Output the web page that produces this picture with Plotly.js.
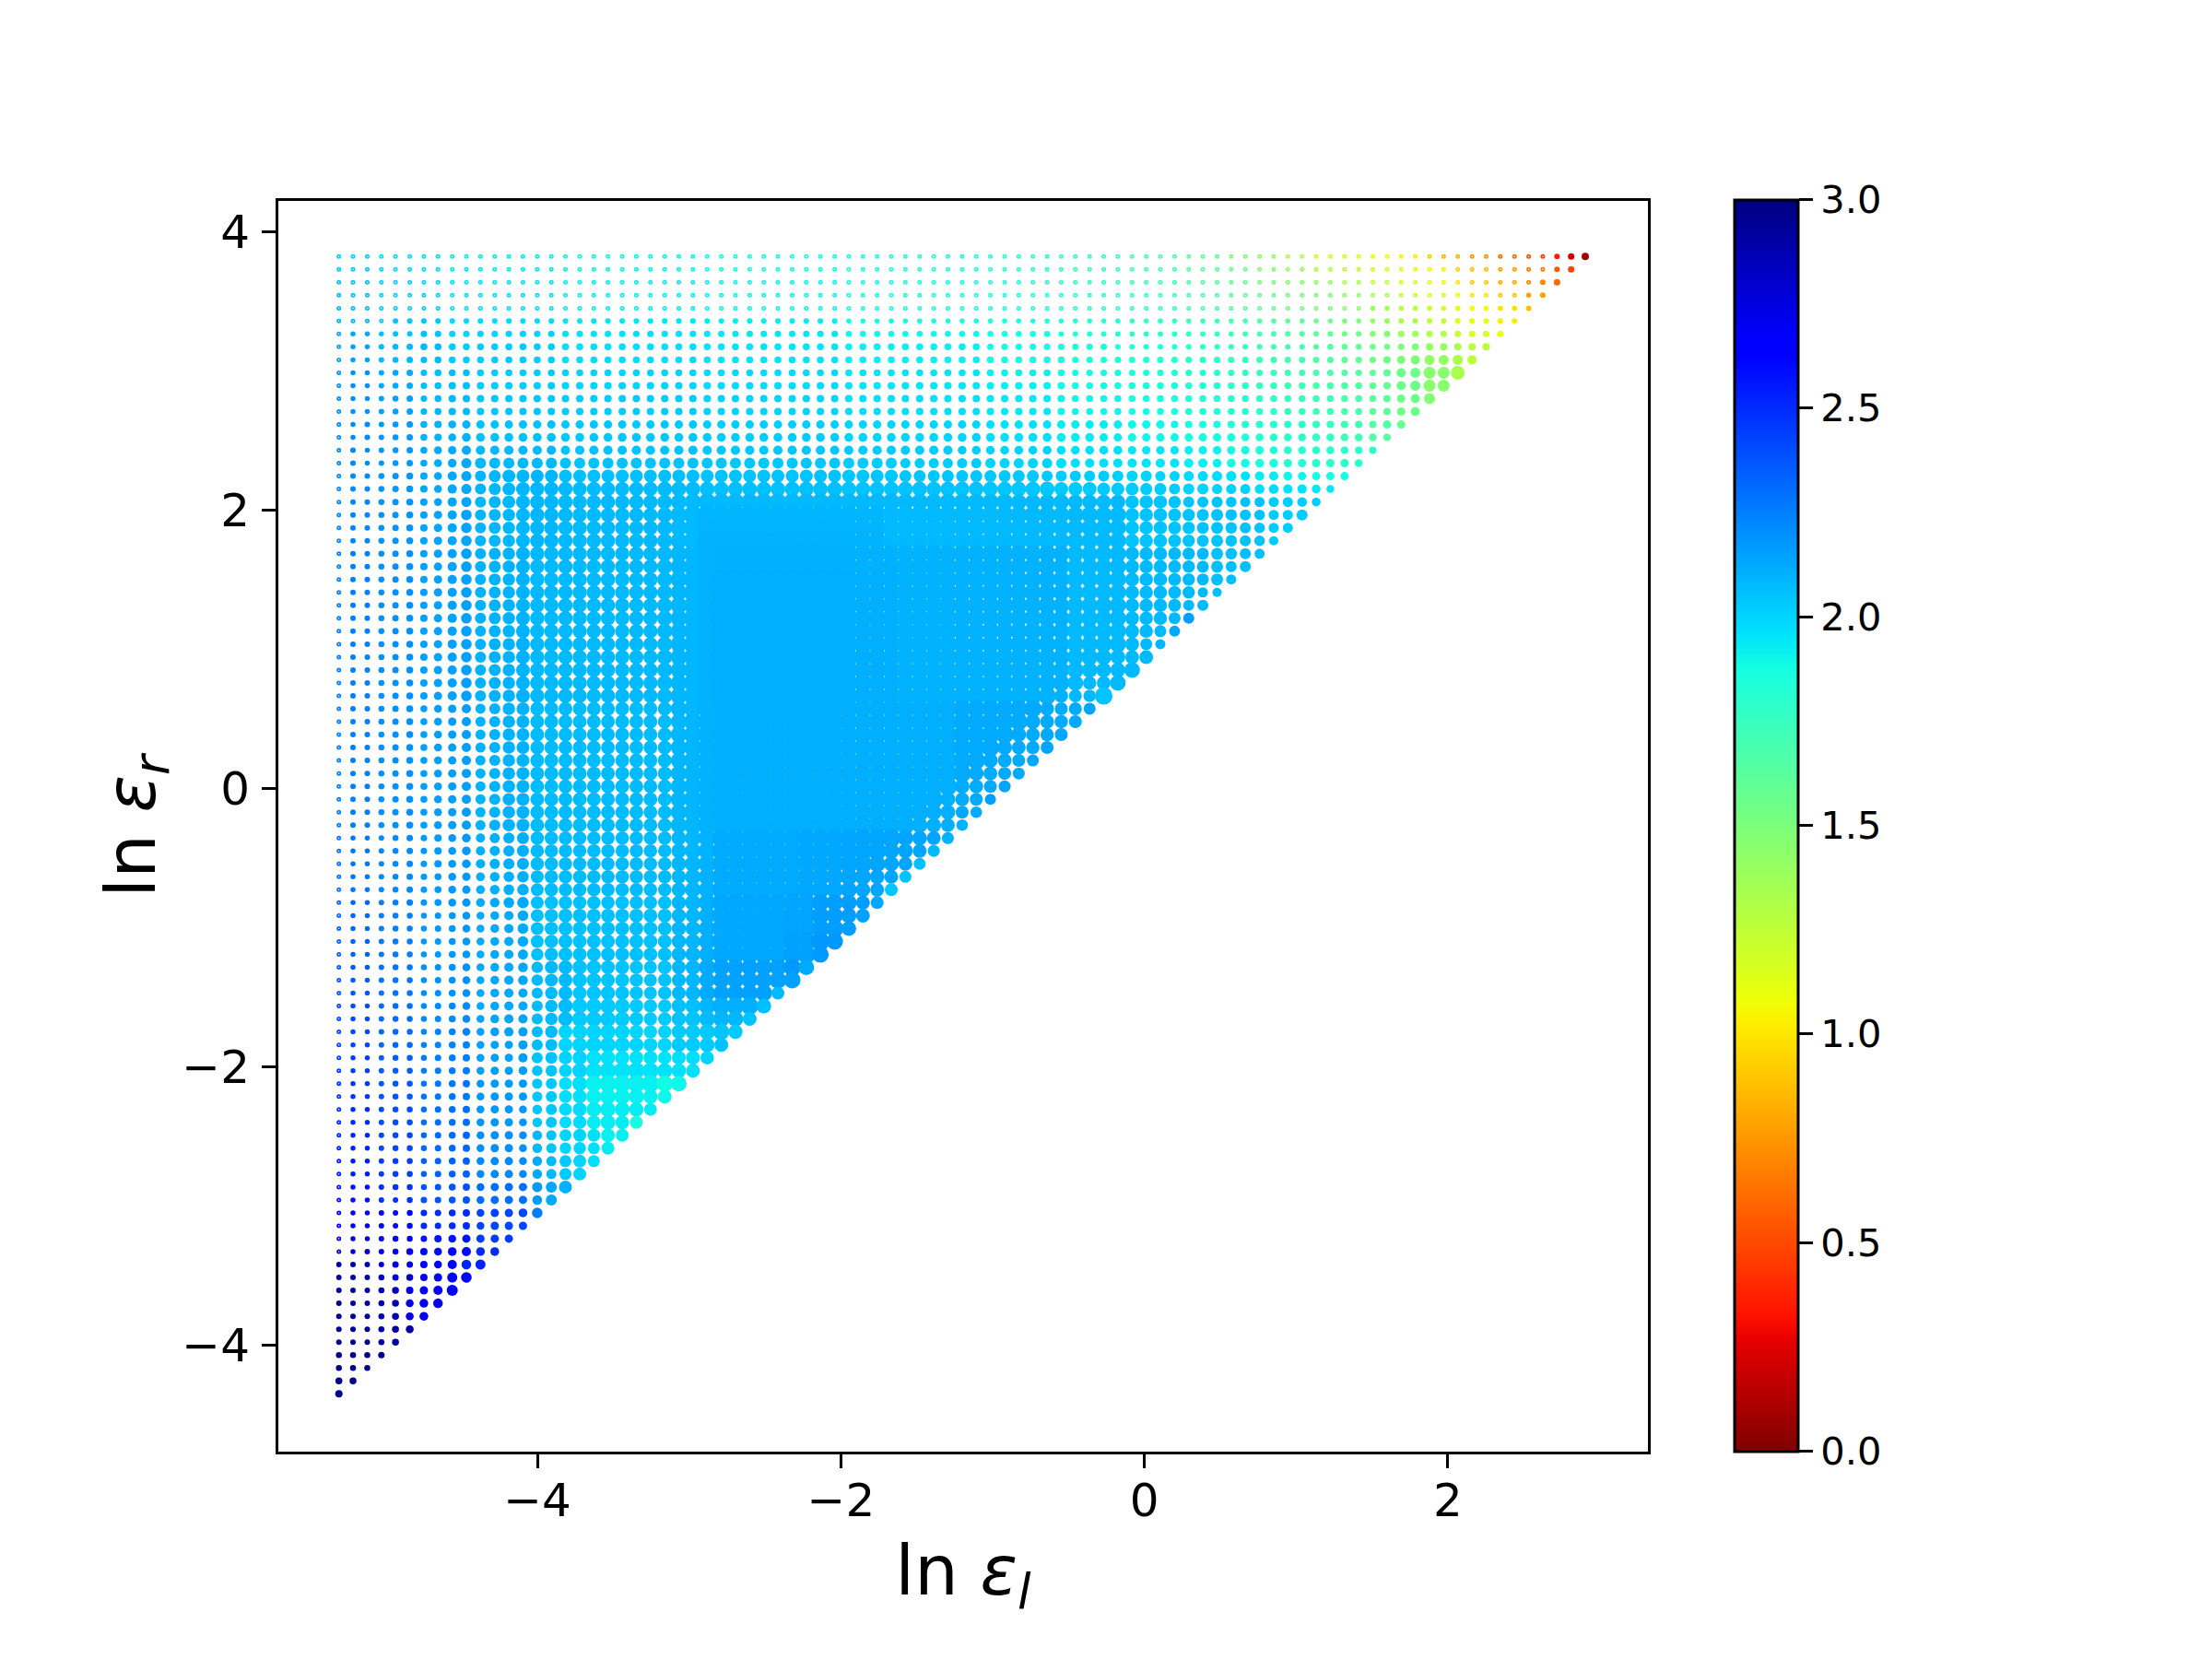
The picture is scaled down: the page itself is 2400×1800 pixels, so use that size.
<!DOCTYPE html>
<html><head><meta charset="utf-8">
<script src="https://cdn.plot.ly/plotly-3.0.1.min.js"></script>
<style>html,body{margin:0;padding:0;background:#fff}</style></head>
<body><div id="chart" style="width:2400px;height:1800px"></div>
<script>
// Column positions (ln eps_l) and row positions (ln eps_r)
const lnEpsL=[-5.308,-5.215,-5.121,-5.028,-4.935,-4.841,-4.748,-4.655,-4.561,-4.468,-4.375,-4.281,-4.188,-4.095,-4.001,-3.908,-3.815,-3.721,-3.628,-3.535,-3.441,-3.348,-3.255,-3.161,-3.068,-2.975,-2.881,-2.788,-2.695,-2.601,-2.508,-2.415,-2.321,-2.228,-2.135,-2.041,-1.948,-1.855,-1.761,-1.668,-1.575,-1.481,-1.388,-1.295,-1.201,-1.108,-1.015,-.921,-.828,-.735,-.641,-.548,-.455,-.361,-.268,-.175,-.081,.012,.105,.199,.292,.385,.479,.572,.665,.759,.852,.945,1.039,1.132,1.225,1.319,1.412,1.505,1.599,1.692,1.785,1.879,1.972,2.065,2.159,2.252,2.345,2.439,2.532,2.625,2.719,2.812,2.905];
const lnEpsR=[3.823,3.730,3.637,3.544,3.451,3.359,3.266,3.173,3.080,2.987,2.894,2.801,2.708,2.615,2.522,2.430,2.337,2.244,2.151,2.058,1.965,1.872,1.779,1.686,1.593,1.501,1.408,1.315,1.222,1.129,1.036,.943,.850,.757,.664,.572,.479,.386,.293,.200,.107,.014,-.079,-.172,-.265,-.358,-.450,-.543,-.636,-.729,-.822,-.915,-1.008,-1.101,-1.194,-1.287,-1.379,-1.472,-1.565,-1.658,-1.751,-1.844,-1.937,-2.030,-2.123,-2.216,-2.308,-2.401,-2.494,-2.587,-2.680,-2.773,-2.866,-2.959,-3.052,-3.145,-3.237,-3.330,-3.423,-3.516,-3.609,-3.702,-3.795,-3.888,-3.981,-4.074,-4.166,-4.259,-4.352];

// Dot diameter read per row band: [firstRow,lastRow, value,count, value,count, ...]
const diameterBands=[
[0,3,5,89],
[4,4,5,73,5.5,16],
[5,5,5,4,6,32,5.5,38,6,15],
[6,6,5,1,5.5,3,6,2,7,30,6.5,15,5.8,15,6,7,6.5,1,7,16],
[7,7,5,1,5.5,2,6,1,6.5,1,7,1,7.5,40,7,9,6,15,6.5,5,7,1,7.5,1,8,9],
[8,8,5,1,5.5,2,6,1,6.5,1,7,2,7.5,45,7,22,8,1,9,1,10,1,11,3,10,1],
[9,9,5,1,5.5,2,6,1,6.5,1,7,2,7.5,45,7,22,8,1,10,1,11,1,13,2,15,1],
[10,10,5,1,5.5,2,6,1,6.5,1,7,2,7.5,1,8,44,7.5,22,8,1,10,1,11,1,13,2],
[11,11,5,1,5.5,2,6,1,6.5,1,7,2,7.5,1,8,44,7.5,22,8,1,9,1,10,1,12,1],
[12,12,5,1,5.5,2,6,1,6.5,1,7,2,7.5,1,8,44,7.5,22,8,1,9,1,10,1],
[13,13,5,1,5.5,1,6,2,6.5,1,7,1,7.5,1,8,1,8.5,1,9,50,8,15,9,1],
[14,14,5,1,5.5,1,6,2,6.5,1,7,1,7.5,1,8,1,8.5,1,9.5,45,9,10,8.5,10,8,10],
[15,15,5,1,6,1,5.5,1,6,1,6.5,1,7,1,7.5,1,8.5,1,9,1,10,35,9.5,12,9,10,8.5,5,8,10],
[16,16,5,1,6,1,5.5,1,6,1,6.5,1,7,1,7.5,1,8.5,1,9.5,1,11,1,12,30,11,12,10,10,9.5,5,9,5,8.5,10],
[17,17,5,1,6,2,6.5,1,7,1,7.5,1,8,1,8.5,1,10,1,11,1,12,1,13,1,14,28,13,10,12,8,11,6,10,3,9.5,1,9,9],
[18,18,5,1,6,2,6.5,1,7,1,7.5,1,8,1,8.5,1,10,1,11,1,12,1,13,1,14,1,15,1,15.5,9,16,28,15,3,14,3,13,2,12,3,11,3,10.5,2,10,9],
[19,19,5,1,6,2,6.5,1,7,1,7.5,1,8,1,8.5,1,10,1,11,1,12,1,13,1,14,1,15,1,15.5,9,16,1,17,1,18,1,19,14,18,8,17,4,16,4,14.5,3,13.5,1,12,3,11.5,1,11,4,10.5,1,10,6],
[20,34,5,1,6,2,6.5,1,7,1,7.5,1,8,1,9,1,10,1,11.5,1,12,1,13,1,13.5,1,15,1,15.5,9,16.5,1,18,1,20,1,22,10,20,8,19.5,4,19,3,18,5,15,1,14.5,2,14,1,13.5,1,13,2,12.5,1,12,1,11.5,1,11,5],
[35,44,5,1,6,2,6.5,1,7,1,7.5,2,8.5,1,9,1,10,1,11,1,12,1,13.5,1,14,1,15,10,17.5,1,19.5,1,20.5,10,20,8,19.5,4,19,3,18,5],
[45,47,5,1,5.5,2,6,1,6.5,1,7,2,8,1,8.5,1,9.5,1,10,1,11,1,12,1,13,1,14.5,10,16,1,17.5,1,19,1,20,14],
[48,50,5,1,5.5,2,6,1,6.5,1,7,2,7.5,1,8.5,1,9,1,9.5,1,10.5,1,11.5,1,12.5,1,14,1,14.5,9,15.5,1,17,1,18.5,1,20,14],
[51,53,5,1,5.5,2,6,1,6.5,3,7,1,7.5,1,8.5,2,9.5,1,10,1,11.5,1,14,1,14.5,1,15,8,15.5,1,16,1,18,1,20.5,12],
[54,54,5,1,5.5,2,6,1,6.5,3,7,1,7.5,1,8.5,2,9.5,1,10,1,11,1,13.5,1,14.5,1,15,8,15.5,1,16.5,1,17.5,1,20,8],
[55,60,5,1,5.5,2,6,1,6.5,3,7,1,7.5,1,8.5,2,9.5,1,10,90],
[61,72,5,1,5.5,2,6,1,6.5,3,7,1,7.5,1,8,1,8.5,1,9,90],
[73,75,5,1,5.5,2,6,2,6.5,1,7,2,7.5,1,8,1,8.5,1,9,90],
[76,76,5,1,5.5,2,6,1,6.5,2,7,1,8,1,8.5,1,9,5],
[77,77,5,1,5.5,1,6,2,6.5,1,7.5,1,8,1,8.5,1,9.5,1,10,1,9.5,2],
[78,78,5.8,1,6,3,7,2,8,1,8.5,1,10,1,10.5,1,11,1],
[79,79,5.8,1,6,2,6.5,1,7,1,7.5,1,8,1,9,1,11,1,11.5,1],
[80,80,6,3,6.5,1,7.5,1,8,1,9,1,10,1,12,1],
[81,81,6,3,6.5,1,7.5,1,8.5,1,9.5,1,10.5,1],
[82,82,6,3,6.5,1,7.5,1,8.5,1,9.5,1],
[83,83,6,3,6.5,1,7.5,1,8.5,1],
[84,84,6,3,6.5,1,7.5,1],
[85,85,6.5,3,7,1],
[86,86,6.5,3],
[87,87,7.5,2],
[88,88,8,1]];

// Diameters of the trailing dots of a row, next to the diagonal edge
const diameterEdges={0:[6,7,8],1:[6,7],2:[6,7],3:[5.5,6],4:[6],18:[10,10,9.5,8.5],19:[9.5],
20:[12],21:[11],22:[10],23:[11],24:[12,12],25:[11],26:[11,10],27:[12,12],28:[13,12],29:[13,12],30:[15,13,11],
31:[18,17,16,15,15],32:[18,17,16,16,17],33:[17,14.5,15,17],34:[15,14,13.5,19],35:[15,14,14,13],
36:[16,15,14.5,14],37:[16,15,14.5,14],38:[16,15,14.5,14],39:[16,15,14,13],40:[16,15,14,13],41:[16,15,14,13],42:[16,15,14,12],
43:[17,16,14,12.5],44:[17,16,15,12.5],45:[17,16,15,13],46:[17,16,15,13],47:[18,16.5,15,13],
48:[19,18.5,17.5,16,15,13],49:[19,18.5,17.5,16,15,14],50:[19.5,19,18,17,15,14],51:[20,19,18,16.5,15],52:[20,19.5,19,16],53:[20.5,20,18],54:[18],
55:[10.5,12.5,14,15,15.5,15.5,15,15,14.5,14,15,15,16,18,18.5,18,18,18,18.5,19,17],
56:[10.5,12.5,14,15,15.5,15.5,15,15,14.5,14,14.5,15,15.5,17,17.5,18,18,18,18.5,18],
57:[10,12,13.5,15,15,15.5,15.5,15,14.5,14,14.5,15,16,17.5,17.5,18,18,18,14],
58:[10,12,13.5,15.5,16.5,16.5,16.5,16,15,14.5,14.5,15.5,16.5,18,19,19,19,16],
59:[10,12,13.5,15.5,16.5,16.5,16.5,16,15,14.5,14.5,15.5,16.5,17,17.5,17,15],
60:[10,12,13.5,15,16,16.5,16.5,16,15,14.5,14.5,15.5,16,17,17.5,15.5],
61:[10,12,13,15,16,17,17,16.5,15.5,15,15,15.5,16,16,15],
62:[10,12,13,14.5,15.5,16,16,15.5,15,15,14.5,15,15,14.5],
63:[9.5,11.5,12.5,14,16,17.5,18,18,18,17.5,16.5,15.5,15],
64:[9,11,12,14,16,18,18.5,19,19,19,18,17],
65:[9,11,12,14,15,16.5,17,17,16.5,15.5,15],
66:[8.5,10.5,12,14,15,16,16.5,16,15.5,14],
67:[8.5,10.5,12,13,14.5,15,16,15,14],
68:[8.5,10.5,11,13,14,14,15,14],
69:[8.5,10.5,11,12.5,13.5,13,14],
70:[8.5,10.5,11,13,14,13],
71:[8.5,10.5,11,13,14],
72:[9,11,12,14],
73:[9,10.5,12],
74:[9.5,11.5],
75:[9]};

// Colour value read per row band: [firstRow,lastRow, value,count, value,count, ...]
const valueBands=[
[0,0,2,3,1.97,5,1.93,8,1.9,10,1.87,10,1.83,10,1.8,5,1.75,5,1.68,4,1.6,3,1.5,2,1.42,2,1.3,2,1.22,2,1.15,2,1.1,2,1.02,2,.92,1,.85,2,.75,2,.62,2,.52,1,.45,1,.35,1,.2,1,.08,1],
[1,1,2.03,3,1.98,5,1.94,8,1.91,10,1.88,10,1.84,10,1.8,5,1.76,5,1.7,4,1.62,3,1.55,2,1.47,2,1.4,2,1.33,2,1.25,2,1.18,2,1.12,2,1.05,2,.95,1,.88,2,.78,2,.65,2,.55,1,.48,1,.38,1,.28,1],
[2,2,2.05,3,2,5,1.95,8,1.92,10,1.9,10,1.85,10,1.82,5,1.78,5,1.72,4,1.65,3,1.6,2,1.52,2,1.47,2,1.42,2,1.32,2,1.25,2,1.18,2,1.1,2,1,1,.92,2,.82,2,.7,2,.6,1,.52,1,.45,1],
[3,3,2.07,3,2.01,5,1.96,8,1.92,10,1.9,10,1.86,10,1.82,5,1.79,5,1.74,4,1.68,3,1.62,2,1.56,2,1.52,2,1.5,2,1.42,2,1.32,2,1.25,2,1.18,2,1.08,1,1,2,.9,2,.78,2,.7,1,.68,1],
[4,4,2.08,3,2.02,5,1.97,8,1.93,10,1.9,10,1.86,10,1.83,5,1.8,5,1.75,4,1.7,3,1.65,2,1.6,2,1.55,2,1.5,2,1.45,2,1.38,2,1.3,2,1.22,2,1.15,1,1.08,2,.98,2,.88,2,.8,1],
[5,5,2.1,3,2.04,5,1.98,8,1.95,10,1.93,10,1.88,10,1.85,5,1.82,5,1.77,4,1.72,3,1.68,2,1.65,2,1.6,2,1.55,2,1.5,2,1.42,2,1.33,2,1.25,2,1.18,1,1.12,2,1.02,2,.93,2],
[6,6,2.13,3,2.05,5,2,8,1.96,10,1.94,10,1.9,10,1.87,5,1.84,5,1.8,4,1.75,3,1.72,2,1.68,2,1.65,2,1.6,2,1.55,2,1.47,2,1.38,2,1.3,2,1.22,1,1.15,2,1.08,2,1.05,1],
[7,8,2.15,3,2.07,5,2.02,8,1.97,10,1.95,10,1.92,10,1.88,5,1.85,5,1.82,4,1.78,3,1.75,2,1.72,2,1.69,2,1.65,2,1.6,2,1.55,2,1.5,2,1.42,2,1.32,1,1.27,5],
[9,10,2.2,3,2.12,3,2.06,4,2.02,6,2,10,1.98,10,1.95,10,1.92,5,1.88,5,1.85,4,1.82,3,1.78,2,1.75,2,1.72,2,1.68,2,1.65,2,1.6,2,1.55,2,1.45,2,1.33,5],
[11,12,2.2,3,2.15,3,2.08,4,2.04,6,2.02,10,2,10,1.97,10,1.94,5,1.9,5,1.87,4,1.84,3,1.82,2,1.78,2,1.75,2,1.72,2,1.68,2,1.62,2,1.55,2,1.47,5],
[13,14,2.22,3,2.17,3,2.1,4,2.06,6,2.04,10,2.02,10,2,10,1.97,5,1.93,5,1.9,4,1.87,3,1.84,2,1.82,2,1.8,2,1.77,2,1.72,2,1.65,2,1.58,5],
[15,16,2.22,3,2.18,3,2.12,4,2.08,6,2.05,10,2.04,10,2.02,10,2,5,1.97,5,1.95,4,1.92,3,1.88,2,1.85,2,1.82,2,1.8,5],
[17,17,2.22,3,2.18,3,2.13,4,2.09,6,2.06,10,2.05,10,2.04,10,2.03,5,2.02,5,2,4,1.98,3,1.96,2,1.93,2,1.9,2,1.87,5],
[18,18,2.22,3,2.18,3,2.13,4,2.09,6,2.07,10,2.06,10,2.05,10,2.04,5,2.03,5,2.02,4,2,3,2,2,1.98,2,1.96,2,1.94,5],
[19,19,2.23,3,2.19,3,2.14,4,2.09,6,2.08,40,2.05,10,2.02,20],
[20,20,2.23,3,2.19,3,2.14,4,2.09,6,2.08,10,2.09,13,2.08,17,2.05,10,2.02,20],
[21,21,2.23,3,2.19,3,2.14,4,2.09,6,2.08,10,2.095,13,2.08,17,2.05,10,2.02,20],
[22,22,2.23,3,2.19,3,2.14,4,2.09,6,2.08,10,2.1,13,2.08,17,2.05,10,2.02,20],
[23,24,2.25,3,2.2,3,2.15,4,2.1,4,2.08,10,2.09,2,2.1,1,2.105,13,2.1,12,2.08,10,2.06,30],
[25,34,2.25,3,2.2,3,2.15,4,2.1,4,2.08,10,2.09,2,2.1,1,2.11,13,2.1,12,2.08,10,2.06,30],
[35,44,2.25,3,2.2,3,2.16,4,2.1,4,2.07,10,2.09,2,2.1,1,2.11,17,2.12,10],
[45,49,2.28,3,2.22,3,2.17,4,2.11,4,2.07,10,2.09,2,2.1,1,2.12,6,2.13,3,2.14,14],
[50,52,2.32,3,2.25,3,2.18,4,2.12,4,2.06,10,2.09,2,2.11,1,2.13,5,2.14,2,2.16,10],
[53,54,2.33,3,2.26,3,2.18,4,2.12,4,2.06,10,2.09,2,2.11,1,2.13,5,2.15,2,2.17,10],
[55,57,2.36,3,2.28,3,2.2,4,2.13,4,2.08,3,2.05,7,2.09,2,2.12,1,2.15,5,2.17,10],
[58,58,2.4,3,2.3,3,2.22,4,2.13,4,2.07,3,2.03,7,2.06,2,2.09,1,2.11,10],
[59,59,2.4,3,2.3,3,2.22,4,2.14,4,2.07,3,2.03,7,2.05,2,2.07,1,2.09,10],
[60,61,2.42,3,2.32,3,2.24,4,2.15,4,2.07,2,2,8,2.03,3,2.05,10],
[62,63,2.45,3,2.35,3,2.26,4,2.16,4,2.05,2,2,2,1.96,6,1.97,10],
[64,65,2.47,3,2.37,3,2.28,4,2.17,4,2.04,2,1.97,2,1.92,5,1.88,5],
[66,67,2.5,3,2.4,3,2.3,4,2.18,4,2.04,2,1.98,2,1.93,10],
[68,69,2.52,3,2.42,3,2.32,4,2.2,4,2.08,1,2.05,1,2,2,1.97,1,1.92,5],
[70,71,2.55,3,2.45,3,2.34,4,2.22,4,2.12,1,2.08,1,2.03,1,2,1,1.98,3],
[72,73,2.58,3,2.48,3,2.38,4,2.3,4,2.17,1,2.13,1,2.1,3],
[74,75,2.68,3,2.6,3,2.5,4,2.42,4,2.25,3],
[76,76,2.78,3,2.68,3,2.57,4,2.45,5],
[77,77,2.82,3,2.72,3,2.6,4,2.5,4],
[78,78,2.87,3,2.75,3,2.62,3,2.52,4],
[79,79,2.9,3,2.8,3,2.65,4],
[80,80,2.92,3,2.84,2,2.75,1,2.68,3],
[81,82,2.94,3,2.87,2,2.72,4],
[83,84,2.95,3,2.9,3],
[85,88,2.97,5]];

// Colour of the last dot of a row, on the diagonal edge
const valueEdges={28:[2.16],29:[2.13],30:[2.09],34:[2.05],35:[2.14],36:[2.13],37:[2.13],38:[2.14],39:[2.13],40:[2.12],41:[2.14],42:[2.16],43:[2.12],44:[2.1],45:[2.1],46:[2.08],47:[2.06],48:[2.05],49:[2.04],50:[2.13],51:[2.15],52:[2.16],53:[2.17],54:[2.17],55:[2.12],56:[2.15],57:[2.07],58:[2.06],59:[2.05],60:[2.03],62:[2],63:[1.97],64:[1.9],65:[1.9],66:[1.93],67:[1.88],68:[1.92],69:[1.93],70:[1.97]};

const xTicks=[-4,-2,0,2];
const yTicks=[-4,-2,0,2,4];
const barTicks=[0,0.5,1,1.5,2,2.5,3];
const barLabels=['0.0','0.5','1.0','1.5','2.0','2.5','3.0'];
const jetReversed=[[0,'rgb(128,0,0)'],[.09,'rgb(232,0,0)'],[.11,'rgb(255,19,0)'],[.34,'rgb(255,236,0)'],[.35,'rgb(247,246,0)'],[.36,'rgb(238,255,8)'],[.625,'rgb(21,255,226)'],[.65,'rgb(0,230,247)'],[.66,'rgb(0,219,255)'],[.875,'rgb(0,0,255)'],[.89,'rgb(0,0,255)'],[1,'rgb(0,0,128)']];

function expandRow(bands,edges,r,n){
  const band=bands.find(b=>r>=b[0]&&r<=b[1]);
  let out=[];
  for(let k=2;k<band.length;k+=2) for(let q=0;q<band[k+1];q++) out.push(band[k]);
  while(out.length<n) out.push(out[out.length-1]);
  out=out.slice(0,n);
  const e=edges[r]||[];
  e.forEach((v,k)=>{out[n-e.length+k]=v;});
  return out;
}
const xs=[],ys=[],vals=[],sizes=[],symbols=[],widths=[];
const RING=1.7;
lnEpsR.forEach((yv,r)=>{
  const n=lnEpsL.length-r;
  const dia=expandRow(diameterBands,diameterEdges,r,n);
  const col=expandRow(valueBands,valueEdges,r,n);
  for(let c=0;c<n;c++){
    xs.push(lnEpsL[c]);ys.push(yv);vals.push(col[c]);
    const ring=dia[c]<5.4;
    sizes.push(ring?dia[c]-RING:dia[c]);
    symbols.push(ring?'circle-open':'circle');
    widths.push(ring?RING:0);
  }
});
const font='"DejaVu Sans", sans-serif';
const axis={showline:true,mirror:true,linecolor:'#000',linewidth:3,ticks:'outside',ticklen:15,tickwidth:3,tickcolor:'#000',showgrid:false,zeroline:false,tickfont:{family:font,size:50,color:'#000'}};
Plotly.newPlot('chart',[{
  type:'scatter',mode:'markers',x:xs,y:ys,hoverinfo:'skip',
  marker:{color:vals,cmin:0,cmax:3,colorscale:jetReversed,opacity:1,size:sizes,symbol:symbols,line:{width:widths},
    colorbar:{x:(1882.5-301.5)/1486.5,xanchor:'left',xpad:0,y:1.0011,yanchor:'top',ypad:0,
      thickness:69,thicknessmode:'pixels',len:1.0011,lenmode:'fraction',outlinecolor:'#000',outlinewidth:3,borderwidth:0,
      ticks:'outside',ticklen:15,tickwidth:3,tickcolor:'#000',tickmode:'array',tickvals:barTicks,ticktext:barLabels,
      tickfont:{family:font,size:41.6,color:'#000'},ticklabelstandoff:13}}
}],{
  width:2400,height:1800,paper_bgcolor:'#fff',plot_bgcolor:'#fff',showlegend:false,font:{family:font},
  margin:{l:301.5,r:612,t:217.5,b:225,pad:0},
  xaxis:Object.assign({},axis,{range:[-5.707,3.318],tickmode:'array',tickvals:xTicks,ticklabelstandoff:-8,title:{text:'ln <i>ε</i><sub><i>l</i></sub>',font:{family:font,size:75,color:'#000'},standoff:22}}),
  yaxis:Object.assign({},axis,{range:[-4.768,4.222],tickmode:'array',tickvals:yTicks,ticklabelstandoff:3,title:{text:'ln <i>ε</i><sub><i>r</i></sub>',font:{family:font,size:75,color:'#000'},standoff:5}})
},{displayModeBar:false,staticPlot:true});
</script></body></html>
